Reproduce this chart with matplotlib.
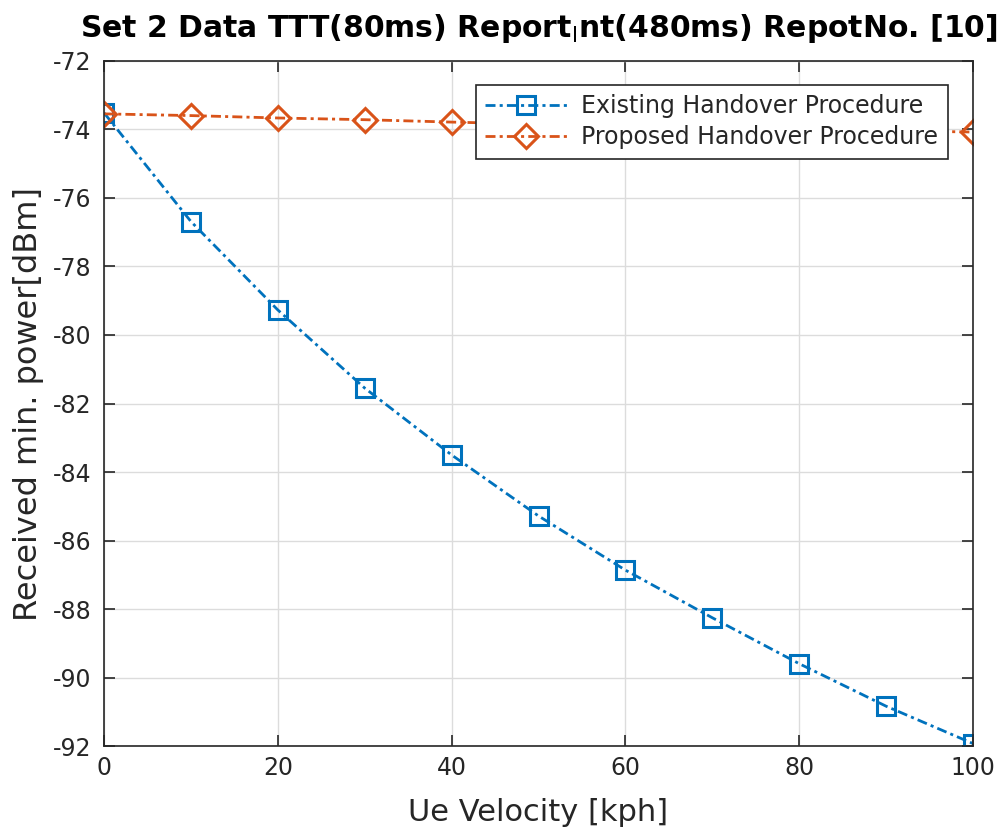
import numpy as np
import matplotlib
matplotlib.use('Agg')
import matplotlib.pyplot as plt

# Velocidades y potencias mínimas recibidas
velocidad = [0, 10, 20, 30, 40, 50, 60, 70, 80, 90, 100]
existente = [-73.52, -76.69, -79.27, -81.55, -83.5, -85.28, -86.86, -88.25, -89.59, -90.83, -91.92]
propuesto = [-73.55, -73.6, -73.67, -73.72, -73.79, -73.85, -73.9, -73.95, -74.0, -74.04, -74.08]

etiquetas = ['Existing Handover Procedure', 'Proposed Handover Procedure']

plt.rcParams['font.family'] = ['DejaVu Sans']
plt.rcParams['mathtext.fontset'] = 'dejavusans'
plt.rcParams['axes.unicode_minus'] = False

fig = plt.figure(figsize=(10.06, 8.32), dpi=100)
ax = fig.add_axes([0.1034, 0.103, 0.8638, 0.824])

# patron punto-raya parecido al de MATLAB
patron = (0, (3.6, 1.5, 1.1, 1.5))

ax.plot(velocidad, existente, color='#0072BD', linestyle=patron, linewidth=2.0,
        marker='s', markersize=12.5, markerfacecolor='none', markeredgewidth=2.2,
        label=etiquetas[0])
ax.plot(velocidad, propuesto, color='#D95319', linestyle=patron, linewidth=2.0,
        marker='D', markersize=12, markerfacecolor='none', markeredgewidth=2.2,
        label=etiquetas[1])

ax.set_xlim(0, 100)
ax.set_ylim(-92, -72)
ax.set_xticks(np.arange(0, 101, 20))
ax.set_yticks(np.arange(-92, -71, 2))
ax.grid(True, color='#dcdcdc', linewidth=1)
ax.tick_params(direction='in', length=8, width=1.2, top=True, right=True,
               labelsize=17, colors='#262626')
ax.tick_params(axis='y', pad=9)
ax.tick_params(axis='x', pad=7)
for s in ax.spines.values():
    s.set_color('#262626')
    s.set_linewidth(1.2)

ax.set_xlabel('Ue Velocity [kph]', fontsize=22, color='#262626', labelpad=13)
ax.set_ylabel('Received min. power[dBm]', fontsize=23, color='#262626', labelpad=6)
ax.set_title(r'Set 2 Data TTT(80ms) Report$_\mathrm{I}$nt(480ms) RepotNo. [10]',
             fontsize=21.5, fontweight='bold', y=1.035, pad=0,
             verticalalignment='baseline')

leg = ax.legend(loc='upper right', bbox_to_anchor=(0.971, 0.965), fontsize=17,
                frameon=True, fancybox=False, framealpha=1, borderpad=0.4,
                labelspacing=0.3, handlelength=3.45, handletextpad=0.62,
                borderaxespad=0)
leg.get_frame().set_edgecolor('#262626')
leg.get_frame().set_linewidth(1.2)
for t in leg.get_texts():
    t.set_color('#262626')

fig.savefig('out.png', dpi=100)
